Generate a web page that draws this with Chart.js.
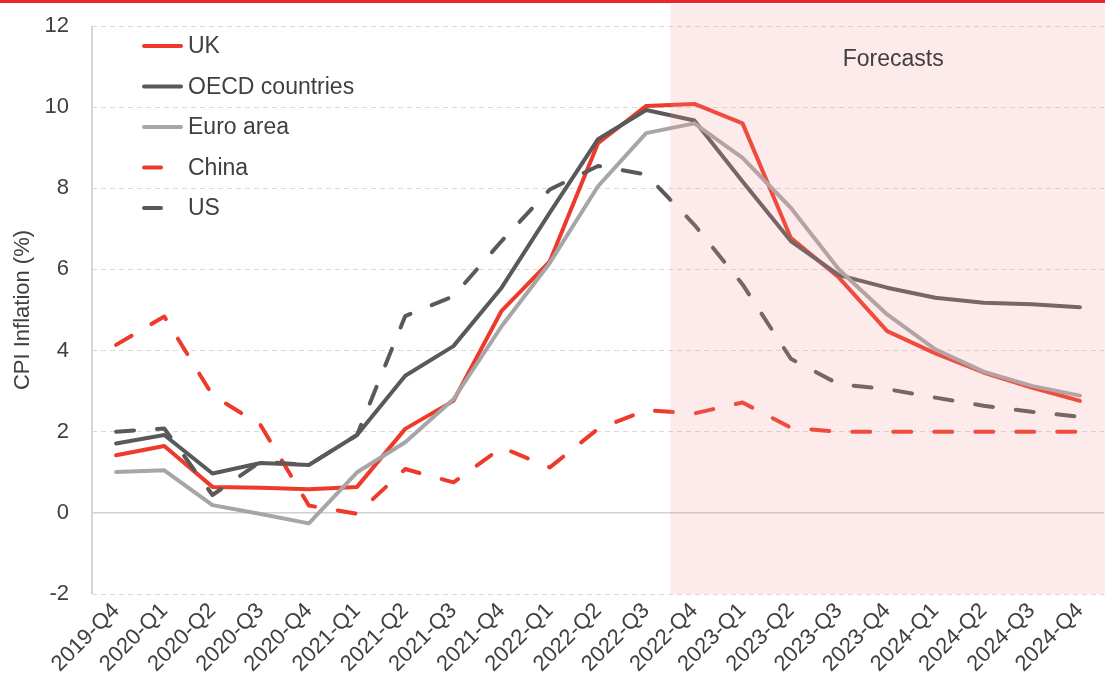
<!DOCTYPE html>
<html><head><meta charset="utf-8">
<script src="https://cdn.jsdelivr.net/npm/chart.js@4/dist/chart.umd.min.js"></script>
<style>
html,body{margin:0;padding:0;background:#fff;overflow:hidden}
#topbar{position:absolute;left:0;top:0;width:1105px;height:3px;background:#E8262A}
canvas{display:block}
</style></head><body>
<div id="topbar"></div>
<canvas id="c" width="1105" height="689"></canvas>
<script>
const categories = ['2019-Q4','2020-Q1','2020-Q2','2020-Q3','2020-Q4','2021-Q1','2021-Q2','2021-Q3','2021-Q4','2022-Q1','2022-Q2','2022-Q3','2022-Q4','2023-Q1','2023-Q2','2023-Q3','2023-Q4','2024-Q1','2024-Q2','2024-Q3','2024-Q4'];
const seriesNames = ['UK','OECD countries','Euro area','China','US'];
const ukValues    = [1.42,1.65,0.64,0.62,0.58,0.64,2.07,2.76,4.98,6.20,9.11,10.03,10.08,9.60,6.78,5.80,4.48,3.93,3.46,3.09,2.76];
const oecdValues  = [1.71,1.92,0.97,1.23,1.18,1.92,3.38,4.11,5.55,7.40,9.21,9.93,9.67,8.17,6.70,5.86,5.55,5.30,5.18,5.14,5.07];
const euroValues  = [1.01,1.05,0.19,-0.03,-0.26,1.00,1.74,2.80,4.60,6.16,8.05,9.36,9.60,8.75,7.52,6.00,4.89,4.03,3.48,3.13,2.89];
const chinaValues = [4.14,4.84,2.90,2.16,0.18,-0.02,1.08,0.75,1.61,1.12,2.07,2.53,2.45,2.72,2.10,2.00,2.00,2.00,2.00,2.00,2.00];
const usValues    = [2.00,2.08,0.44,1.26,1.18,1.92,4.85,5.34,6.70,7.97,8.55,8.34,7.10,5.63,3.80,3.17,3.05,2.84,2.64,2.49,2.37];
const yMin = -2, yMax = 12, yStep = 2;
const yTitle = 'CPI Inflation (%)';
const forecastStart = '2022-Q4';
const forecastLabel = 'Forecasts';

const RED = '#EE3A2B', DARK = '#595959', LIGHT = '#A6A6A6';
const FONT = "'Liberation Sans', Arial, sans-serif";
Chart.defaults.font.family = FONT;

const shadePlugin = {
  id: 'forecastShade',
  beforeDatasetsDraw(chart) {
    const {ctx, chartArea, scales} = chart;
    ctx.save();
    ctx.strokeStyle = '#d6d6d6'; ctx.lineWidth = 2;
    ctx.beginPath(); ctx.moveTo(chartArea.left, chartArea.top); ctx.lineTo(chartArea.left, chartArea.bottom); ctx.stroke();
    const y0 = scales.y.getPixelForValue(0);
    ctx.strokeStyle = '#d0d0d0'; ctx.lineWidth = 1.5;
    ctx.beginPath(); ctx.moveTo(chartArea.left, y0); ctx.lineTo(chartArea.right, y0); ctx.stroke();
    ctx.restore();
  },
  afterDatasetsDraw(chart) {
    const {ctx, chartArea, scales} = chart;
    const i = categories.indexOf(forecastStart);
    const xs = (scales.x.getPixelForValue(i - 1) + scales.x.getPixelForValue(i)) / 2;
    const top = Math.max(3, chartArea.top - 22);
    ctx.save();
    ctx.fillStyle = 'rgba(245,150,150,0.2)';
    ctx.fillRect(xs, top, chartArea.right - xs + 2, chartArea.bottom - top);
    ctx.fillStyle = '#404040';
    ctx.font = '23px ' + FONT;
    ctx.textAlign = 'center'; ctx.textBaseline = 'middle';
    ctx.fillText(forecastLabel, (xs + chartArea.right) / 2 + 6, chartArea.top + 34);
    ctx.restore();
  }
};

const legendPlugin = {
  id: 'customLegend',
  afterDraw(chart) {
    const {ctx, chartArea} = chart;
    ctx.save();
    chart.data.datasets.forEach((ds, k) => {
      const y = chartArea.top + 20 + k * 40.5;
      const x0 = chartArea.left + 52;
      ctx.strokeStyle = ds.borderColor; ctx.lineWidth = 4; ctx.lineCap = 'round';
      ctx.beginPath();
      ctx.moveTo(x0, y);
      ctx.lineTo(ds.borderDash ? x0 + 17 : x0 + 37, y);
      ctx.stroke();
      ctx.fillStyle = '#404040';
      ctx.font = '23px ' + FONT;
      ctx.textBaseline = 'middle'; ctx.textAlign = 'left';
      ctx.fillText(ds.label, chartArea.left + 96, y + 1);
    });
    ctx.restore();
  }
};

const solid = (label, data, color, order) => ({label, data, borderColor: color, backgroundColor: color, borderWidth: 4, pointRadius: 0, tension: 0, fill: false, borderCapStyle: 'round', borderJoinStyle: 'round', order});
const dashed = (label, data, color, order) => Object.assign(solid(label, data, color, order), {borderDash: [18, 23]});

new Chart(document.getElementById('c'), {
  type: 'line',
  data: {
    labels: categories,
    datasets: [
      solid(seriesNames[0], ukValues, RED, 5),
      solid(seriesNames[1], oecdValues, DARK, 4),
      solid(seriesNames[2], euroValues, LIGHT, 3),
      dashed(seriesNames[3], chinaValues, RED, 2),
      dashed(seriesNames[4], usValues, DARK, 1)
    ]
  },
  options: {
    responsive: false, animation: false, devicePixelRatio: 1,
    layout: {padding: {top: 26, right: 1, left: 0, bottom: 0}},
    plugins: {legend: {display: false}, tooltip: {enabled: false}},
    scales: {
      x: {
        offset: true,
        grid: {display: false, drawTicks: false},
        border: {display: false},
        ticks: {autoSkip: false, minRotation: 45, maxRotation: 45, color: '#404040', font: {size: 22}, padding: 4},
        afterFit: s => { s.height = 95; s.paddingTop = 0; s.paddingBottom = 0; }
      },
      y: {
        min: yMin, max: yMax,
        grid: {color: '#d9d9d9', lineWidth: 1, drawTicks: false},
        border: {display: false, dash: [5, 4]},
        ticks: {stepSize: yStep, color: '#404040', font: {size: 22}, padding: 23},
        title: {display: true, text: yTitle, color: '#404040', font: {size: 22}, padding: {top: 10, bottom: 0}},
        afterFit: s => { s.width = 92; s.paddingTop = 0; s.paddingBottom = 0; }
      }
    }
  },
  plugins: [shadePlugin, legendPlugin]
});
</script>
</body></html>
